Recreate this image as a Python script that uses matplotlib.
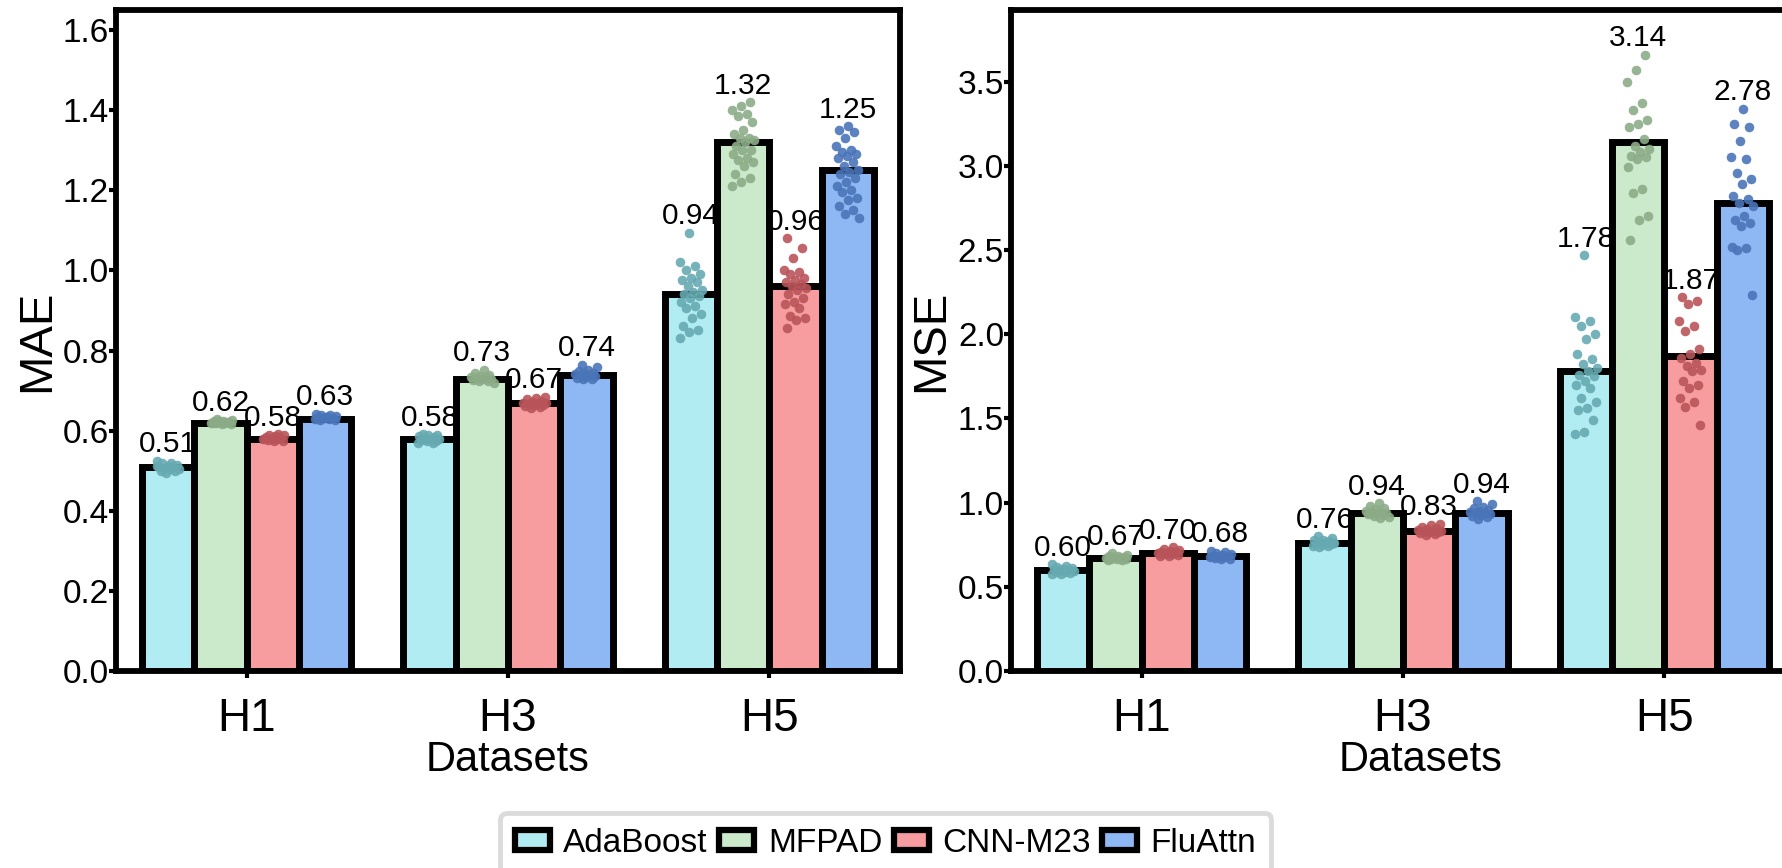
import numpy as np
import matplotlib
matplotlib.use("Agg")
import matplotlib.pyplot as plt
from matplotlib.patches import Patch
from matplotlib.ticker import FormatStrFormatter

plt.rcParams['font.family'] = ['Liberation Sans', 'DejaVu Sans']

# ---------------- data ----------------
datasets = ["H1", "H3", "H5"]
models = ["AdaBoost", "MFPAD", "CNN-M23", "FluAttn"]

mae_adaboost = [0.51, 0.58, 0.94]
mae_mfpad = [0.62, 0.73, 1.32]
mae_cnn = [0.58, 0.67, 0.96]
mae_fluattn = [0.63, 0.74, 1.25]

mse_adaboost = [0.60, 0.76, 1.78]
mse_mfpad = [0.67, 0.94, 3.14]
mse_cnn = [0.70, 0.83, 1.87]
mse_fluattn = [0.68, 0.94, 2.78]

# individual run results (per dataset: H1, H3, H5)
mae_pts_adaboost = [
    [0.525, 0.52, 0.518, 0.515, 0.512, 0.51, 0.508, 0.506, 0.505, 0.503, 0.50, 0.498, 0.495, 0.512, 0.509],
    [0.592, 0.59, 0.588, 0.586, 0.584, 0.582, 0.58, 0.579, 0.577, 0.575, 0.573, 0.57, 0.568, 0.58],
    [1.094, 1.02, 1.01, 1.0, 0.99, 0.98, 0.975, 0.97, 0.96, 0.95, 0.945, 0.94, 0.935, 0.93, 0.92,
     0.91, 0.905, 0.89, 0.88, 0.86, 0.85, 0.845, 0.83],
]
mae_pts_mfpad = [
    [0.628, 0.626, 0.624, 0.623, 0.622, 0.621, 0.62, 0.619, 0.618, 0.617, 0.616, 0.62, 0.622, 0.625],
    [0.752, 0.745, 0.74, 0.737, 0.735, 0.733, 0.731, 0.73, 0.729, 0.727, 0.725, 0.723, 0.72, 0.732],
    [1.42, 1.41, 1.40, 1.39, 1.385, 1.37, 1.35, 1.34, 1.33, 1.33, 1.325, 1.32, 1.31, 1.30, 1.30,
     1.29, 1.28, 1.275, 1.27, 1.26, 1.24, 1.23, 1.22, 1.21],
]
mae_pts_cnn = [
    [0.592, 0.59, 0.588, 0.586, 0.584, 0.582, 0.58, 0.579, 0.578, 0.576, 0.575, 0.573, 0.58, 0.583],
    [0.685, 0.682, 0.678, 0.675, 0.672, 0.67, 0.668, 0.667, 0.665, 0.663, 0.661, 0.659, 0.657, 0.67],
    [1.08, 1.055, 1.03, 1.0, 0.995, 0.99, 0.98, 0.975, 0.97, 0.965, 0.96, 0.955, 0.95, 0.94, 0.93,
     0.92, 0.915, 0.905, 0.885, 0.88, 0.875, 0.855],
]
mae_pts_fluattn = [
    [0.642, 0.64, 0.638, 0.636, 0.634, 0.633, 0.632, 0.631, 0.63, 0.628, 0.627, 0.626, 0.635, 0.632],
    [0.765, 0.758, 0.752, 0.748, 0.745, 0.743, 0.741, 0.74, 0.738, 0.736, 0.734, 0.732, 0.73, 0.728],
    [1.36, 1.35, 1.345, 1.33, 1.31, 1.30, 1.295, 1.29, 1.285, 1.28, 1.27, 1.26, 1.25, 1.245, 1.24,
     1.23, 1.22, 1.21, 1.20, 1.195, 1.18, 1.175, 1.16, 1.15, 1.14, 1.13],
]

mse_pts_adaboost = [
    [0.635, 0.625, 0.618, 0.612, 0.608, 0.604, 0.60, 0.597, 0.594, 0.59, 0.586, 0.582, 0.578, 0.575, 0.60],
    [0.80, 0.79, 0.78, 0.775, 0.77, 0.765, 0.762, 0.76, 0.757, 0.754, 0.75, 0.745, 0.74, 0.735, 0.76],
    [2.47, 2.10, 2.08, 2.05, 2.00, 1.97, 1.88, 1.85, 1.82, 1.80, 1.78, 1.76, 1.75, 1.72, 1.70,
     1.68, 1.62, 1.60, 1.56, 1.55, 1.49, 1.42, 1.41],
]
mse_pts_mfpad = [
    [0.70, 0.69, 0.685, 0.68, 0.677, 0.674, 0.672, 0.67, 0.668, 0.666, 0.664, 0.662, 0.66, 0.675],
    [0.995, 0.98, 0.97, 0.96, 0.953, 0.947, 0.943, 0.94, 0.937, 0.933, 0.928, 0.922, 0.915, 0.908, 0.94],
    [3.66, 3.57, 3.50, 3.37, 3.33, 3.27, 3.25, 3.23, 3.16, 3.12, 3.10, 3.08, 3.06, 3.05, 3.04,
     2.99, 2.86, 2.84, 2.70, 2.68, 2.56],
]
mse_pts_cnn = [
    [0.735, 0.725, 0.718, 0.712, 0.708, 0.704, 0.70, 0.698, 0.695, 0.692, 0.688, 0.685, 0.682, 0.70],
    [0.875, 0.865, 0.855, 0.848, 0.842, 0.836, 0.832, 0.83, 0.827, 0.823, 0.818, 0.812, 0.806, 0.83],
    [2.22, 2.20, 2.18, 2.08, 2.05, 2.02, 1.91, 1.88, 1.86, 1.83, 1.81, 1.79, 1.78, 1.72, 1.70,
     1.68, 1.62, 1.60, 1.57, 1.46],
]
mse_pts_fluattn = [
    [0.715, 0.705, 0.698, 0.692, 0.688, 0.685, 0.682, 0.68, 0.678, 0.675, 0.672, 0.668, 0.665, 0.68],
    [1.01, 0.99, 0.975, 0.965, 0.955, 0.948, 0.943, 0.94, 0.936, 0.932, 0.926, 0.92, 0.912, 0.905],
    [3.34, 3.25, 3.23, 3.15, 3.05, 3.04, 2.96, 2.92, 2.89, 2.82, 2.80, 2.78, 2.76, 2.70, 2.68,
     2.66, 2.64, 2.52, 2.51, 2.50, 2.23],
]

# ---------------- style ----------------
bar_colors = ["#b0ecf1", "#cbe9cb", "#f79c9f", "#8eb8f3"]
pt_colors = ["#67aab2", "#8cac88", "#b9555a", "#4a75b8"]

W, H = 1782, 868
fig = plt.figure(figsize=(W / 100, H / 100), dpi=100)

ax_bottom = 1 - 671 / H
ax_height = (671 - 10) / H
ax1 = fig.add_axes([116 / W, ax_bottom, 784 / W, ax_height])
ax2 = fig.add_axes([1011 / W, ax_bottom, 784 / W, ax_height])

bar_w = 0.2
offsets = (np.arange(len(models)) - 1.5) * bar_w
golden = 0.6180339887


def draw(ax, means_list, pts_list, ylabel, ylim, yticks, xlabel_x):
    x = np.arange(len(datasets))
    for m, (means, pts) in enumerate(zip(means_list, pts_list)):
        ax.bar(x + offsets[m], means, width=bar_w, color=bar_colors[m],
               edgecolor="black", linewidth=5, zorder=2)
        for d in range(len(datasets)):
            vals = np.asarray(pts[d])
            k = np.arange(len(vals))
            jit = ((k * golden + 0.37 * m + 0.21 * d) % 1.0 - 0.5) * 0.09
            ax.scatter(x[d] + offsets[m] + jit, vals, s=42, color=pt_colors[m],
                       alpha=0.9, edgecolors=pt_colors[m], linewidths=0.4, zorder=3)
            top = max(vals.max(), means[d])
            ax.annotate(f"{means[d]:.2f}", (x[d] + offsets[m], top),
                        xytext=(0, 6), textcoords="offset points",
                        ha="center", va="baseline", fontsize=21.5, zorder=4)
    ax.set_xlim(-0.5, 2.5)
    ax.set_ylim(*ylim)
    ax.set_yticks(yticks)
    ax.yaxis.set_major_formatter(FormatStrFormatter("%.1f"))
    ax.set_xticks(x)
    ax.set_xticklabels(datasets)
    ax.set_ylabel(ylabel, fontsize=34, labelpad=3)
    ax.set_xlabel("Datasets", fontsize=30)
    ax.xaxis.set_label_coords(xlabel_x, -0.104)
    ax.tick_params(axis="y", labelsize=24, width=3, length=5, direction="out", pad=0)
    ax.tick_params(axis="x", labelsize=33, width=3, length=5, direction="out", pad=14)
    for sp in ax.spines.values():
        sp.set_linewidth(4.2)
        sp.set_color("black")


draw(ax1, [mae_adaboost, mae_mfpad, mae_cnn, mae_fluattn],
     [mae_pts_adaboost, mae_pts_mfpad, mae_pts_cnn, mae_pts_fluattn],
     "MAE", (0, 1.65), np.arange(0, 1.61, 0.2), 0.5)
draw(ax2, [mse_adaboost, mse_mfpad, mse_cnn, mse_fluattn],
     [mse_pts_adaboost, mse_pts_mfpad, mse_pts_cnn, mse_pts_fluattn],
     "MSE", (0, 3.925), np.arange(0, 3.51, 0.5), 0.522)

handles = [Patch(facecolor=c, edgecolor="black", linewidth=4.5, label=l)
           for c, l in zip(bar_colors, models)]
leg = fig.legend(handles=handles, loc="upper center", bbox_to_anchor=(0.497, 1 - 813 / H),
                 ncol=4, fontsize=24, frameon=True, fancybox=True,
                 edgecolor="#d3d3d3", handlelength=1.05, handleheight=0.55,
                 columnspacing=0.35, handletextpad=0.4, borderpad=0.45, borderaxespad=0)
leg.get_frame().set_linewidth(3.5)

fig.savefig("out.png", dpi=100)
